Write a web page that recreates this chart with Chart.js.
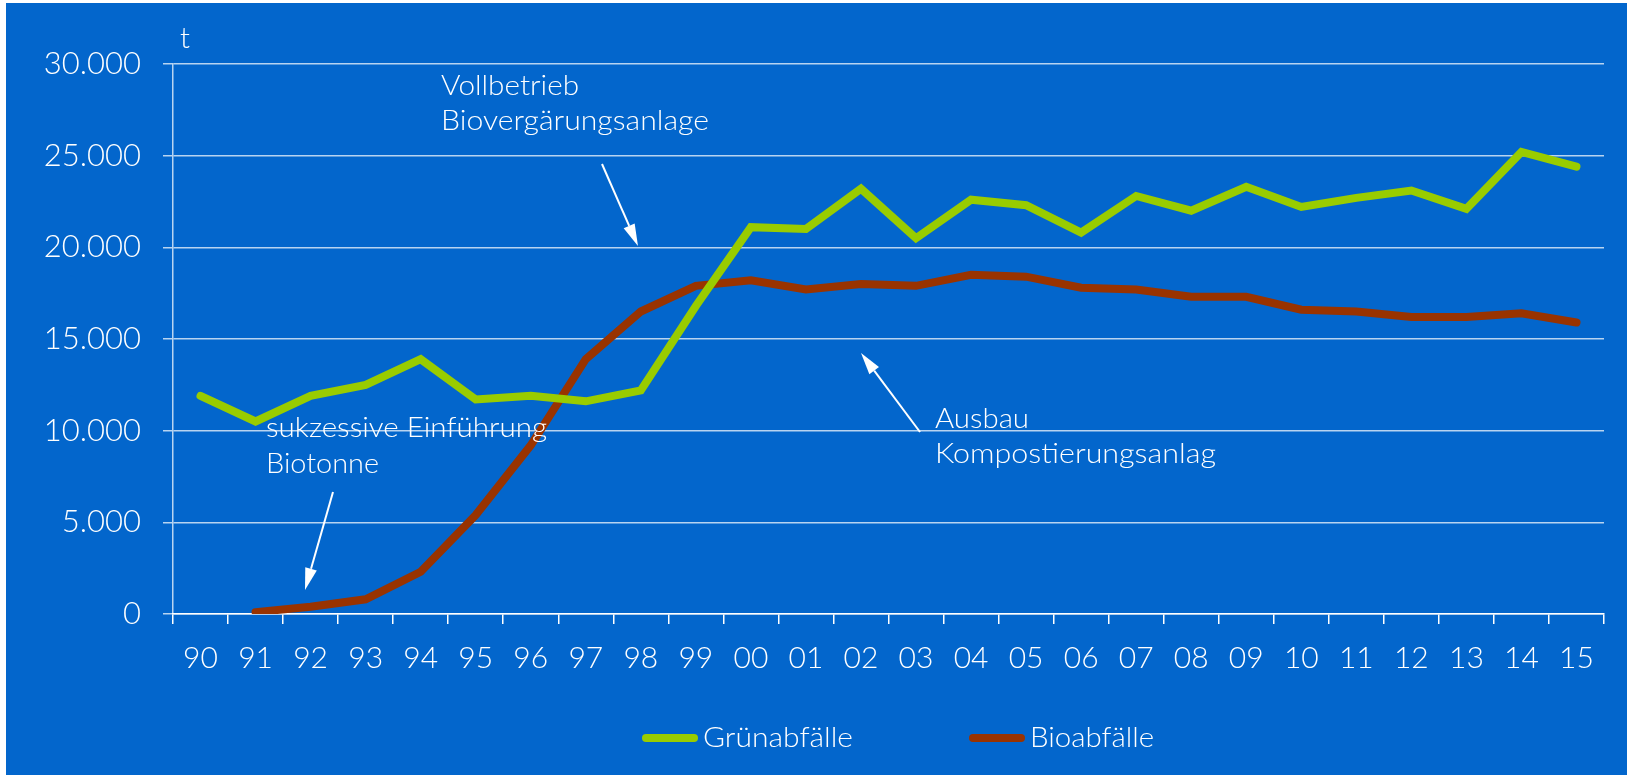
<!DOCTYPE html>
<html>
<head>
<meta charset="utf-8">
<script src="https://cdn.jsdelivr.net/npm/chart.js@4.4.1/dist/chart.umd.min.js"></script>
<style>
  html, body { margin: 0; padding: 0; background: #ffffff; }
  #wrap { width: 1627px; height: 775px; position: relative; }
</style>
</head>
<body>
<div id="wrap"><canvas id="c" width="1627" height="775"></canvas></div>
<script>
// ---- data ----
const years = ['90','91','92','93','94','95','96','97','98','99','00','01','02','03','04','05','06','07','08','09','10','11','12','13','14','15'];
const gruenabfaelle = [11900,10500,11900,12500,13900,11700,11900,11600,12200,16800,21100,21000,23200,20500,22600,22300,20800,22800,22000,23300,22200,22700,23100,22100,25200,24400];
const bioabfaelle = [null,100,400,800,2300,5400,9200,13900,16500,17900,18200,17700,18000,17900,18500,18400,17800,17700,17300,17300,16600,16500,16200,16200,16400,15900];
const yTickLabels = ['0','5.000','10.000','15.000','20.000','25.000','30.000'];
const seriesNames = ['Grünabfälle','Bioabfälle'];
const unitLabel = 't';

// ---- annotations (text + arrows) ----
const notes = [
  { lines: ['Vollbetrieb', 'Biovergärungsanlage'], x: 441, y: 95, lh: 35, widths: [138, 268], arrow: [602, 164, 638, 246] },
  { lines: ['sukzessive Einführung', 'Biotonne'], x: 266, y: 437, lh: 36, widths: [281, 113], arrow: [333, 492, 305, 590] },
  { lines: ['Ausbau', 'Kompostierungsanlag'], x: 935, y: 428, lh: 35, widths: [94, 281], arrow: [920, 432, 861, 353] }
];

const FONT = 'Lato';
const BG = '#0366cc';
const GREEN = '#99cc00';
const BROWN = '#993300';
const GRID = 'rgba(255,255,255,0.72)';

function fitText(ctx, text, x, y, w) {
  const m = ctx.measureText(text).width;
  const sx = w / m;
  ctx.save();
  ctx.translate(x, y);
  ctx.scale(sx, 1);
  ctx.fillText(text, 0, 0);
  ctx.restore();
}

function arrow(ctx, x1, y1, x2, y2) {
  const ang = Math.atan2(y2 - y1, x2 - x1);
  const hl = 22, hw = 6;
  const bx = x2 - hl * Math.cos(ang), by = y2 - hl * Math.sin(ang);
  ctx.save();
  ctx.strokeStyle = '#ffffff';
  ctx.fillStyle = '#ffffff';
  ctx.lineWidth = 2;
  ctx.beginPath();
  ctx.moveTo(x1, y1);
  ctx.lineTo(bx, by);
  ctx.stroke();
  ctx.beginPath();
  ctx.moveTo(x2, y2);
  ctx.lineTo(bx + hw * Math.sin(ang), by - hw * Math.cos(ang));
  ctx.lineTo(bx - hw * Math.sin(ang), by + hw * Math.cos(ang));
  ctx.closePath();
  ctx.fill();
  ctx.restore();
}

const bgPlugin = {
  id: 'bg',
  beforeDraw(chart) {
    const ctx = chart.ctx;
    ctx.save();
    ctx.fillStyle = '#ffffff';
    ctx.fillRect(0, 0, chart.width, chart.height);
    ctx.fillStyle = BG;
    ctx.fillRect(6, 3, chart.width - 6, chart.height - 3);
    ctx.restore();
  }
};

const decoPlugin = {
  id: 'deco',
  afterDraw(chart) {
    const ctx = chart.ctx;
    const area = chart.chartArea;
    ctx.save();
    ctx.fillStyle = '#ffffff';
    ctx.textBaseline = 'alphabetic';
    ctx.textAlign = 'left';
    // unit label
    ctx.font = '300 29px ' + FONT;
    ctx.fillText(unitLabel, area.left + 7, 48);
    // annotations
    ctx.font = '300 27px ' + FONT;
    notes.forEach(n => {
      n.lines.forEach((t, i) => fitText(ctx, t, n.x, n.y + i * n.lh, n.widths[i]));
      arrow(ctx, ...n.arrow);
    });
    // legend
    const items = [
      { x: 642, tx: 703, tw: 150 },
      { x: 969, tx: 1030, tw: 124 }
    ];
    const ly = 738;
    ctx.font = '300 28px ' + FONT;
    chart.data.datasets.forEach((ds, i) => {
      const it = items[i];
      ctx.strokeStyle = ds.borderColor;
      ctx.lineWidth = 8;
      ctx.lineCap = 'round';
      ctx.beginPath();
      ctx.moveTo(it.x + 4, ly);
      ctx.lineTo(it.x + 52, ly);
      ctx.stroke();
      ctx.fillStyle = '#ffffff';
      fitText(ctx, ds.label, it.tx, ly + 9, it.tw);
    });
    ctx.restore();
  }
};

new Chart(document.getElementById('c'), {
  type: 'line',
  data: {
    labels: years,
    datasets: [
      { label: seriesNames[0], data: gruenabfaelle, borderColor: GREEN, backgroundColor: GREEN,
        borderWidth: 8, pointRadius: 0, tension: 0, borderCapStyle: 'round', borderJoinStyle: 'miter', fill: false },
      { label: seriesNames[1], data: bioabfaelle, borderColor: BROWN, backgroundColor: BROWN,
        borderWidth: 8, pointRadius: 0, tension: 0, borderCapStyle: 'round', borderJoinStyle: 'miter', fill: false, spanGaps: false }
    ]
  },
  options: {
    responsive: false,
    animation: false,
    devicePixelRatio: 1,
    layout: { padding: { top: 64, right: 23, bottom: 0, left: 0 } },
    plugins: { legend: { display: false }, tooltip: { enabled: false } },
    scales: {
      x: {
        type: 'category',
        offset: true,
        afterFit(s) { s.height = 161; },
        grid: { offset: true, drawOnChartArea: false, drawTicks: true, tickLength: 10, color: '#ffffff', lineWidth: 1.5 },
        border: { display: true, color: '#ffffff', width: 1.5 },
        ticks: { color: '#ffffff', font: { family: FONT, size: 30, weight: '300' }, padding: 16, maxRotation: 0, autoSkip: false }
      },
      y: {
        min: 0, max: 30000,
        afterFit(s) { s.width = 173; },
        grid: { color: GRID, lineWidth: 1.5, tickLength: 10, drawTicks: true },
        border: { display: true, color: GRID, width: 1.5 },
        ticks: {
          stepSize: 5000,
          color: '#ffffff',
          padding: 22,
          font: { family: FONT, size: 31, weight: '300' },
          callback: (v) => yTickLabels[Math.round(v / 5000)]
        }
      }
    }
  },
  plugins: [bgPlugin, decoPlugin]
});
</script>
</body>
</html>
